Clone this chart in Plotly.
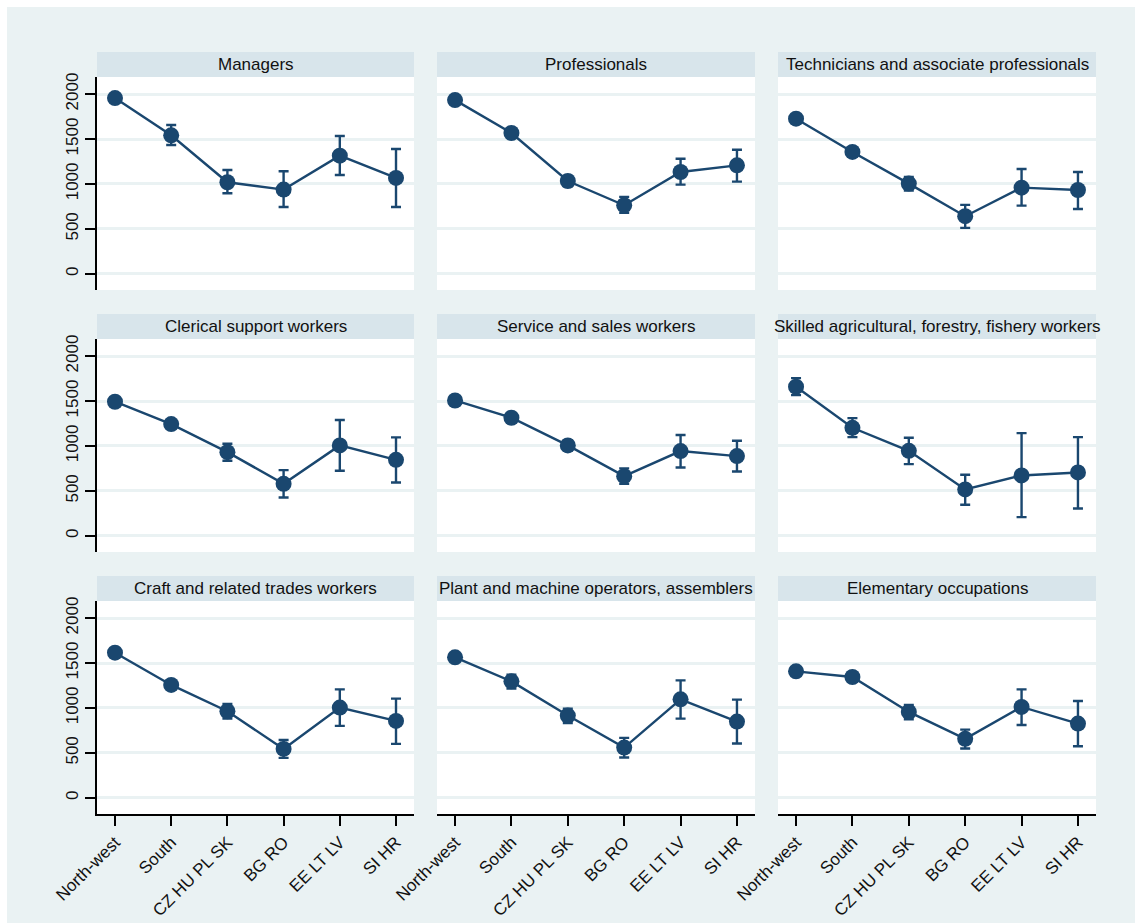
import plotly.graph_objects as go

# Regions along the x axis
regions = ["North-west", "South", "CZ HU PL SK", "BG RO", "EE LT LV", "SI HR"]

# Occupation groups (panel titles, in reading order)
occupations = [
    "Managers",
    "Professionals",
    "Technicians and associate professionals",
    "Clerical support workers",
    "Service and sales workers",
    "Skilled agricultural, forestry, fishery workers",
    "Craft and related trades workers",
    "Plant and machine operators, assemblers",
    "Elementary occupations",
]

# Point estimates per occupation (same order as regions)
managers_mean = [1955, 1541, 1019, 937, 1315, 1067]
professionals_mean = [1933, 1567, 1033, 763, 1133, 1207]
technicians_mean = [1726, 1356, 1004, 641, 959, 933]
clerical_mean = [1492, 1243, 931, 579, 1006, 846]
service_mean = [1506, 1314, 1006, 664, 943, 887]
agri_mean = [1659, 1202, 946, 516, 672, 705]
craft_mean = [1615, 1256, 963, 544, 1004, 856]
plant_mean = [1563, 1296, 915, 559, 1096, 848]
elementary_mean = [1407, 1344, 956, 656, 1011, 826]

# Upper confidence limits
managers_hi = [1975, 1656, 1156, 1141, 1533, 1389]
professionals_hi = [1950, 1590, 1090, 856, 1281, 1381]
technicians_hi = [1745, 1393, 1078, 767, 1167, 1133]
clerical_hi = [1510, 1280, 1024, 731, 1288, 1095]
service_hi = [1525, 1340, 1065, 750, 1121, 1058]
agri_hi = [1755, 1310, 1091, 679, 1143, 1098]
craft_hi = [1635, 1290, 1044, 644, 1207, 1104]
plant_hi = [1582, 1370, 993, 667, 1307, 1093]
elementary_hi = [1425, 1380, 1033, 759, 1207, 1078]

# Lower confidence limits
managers_lo = [1935, 1433, 896, 744, 1100, 744]
professionals_lo = [1916, 1544, 975, 678, 993, 1026]
technicians_lo = [1707, 1319, 926, 511, 759, 722]
clerical_lo = [1474, 1206, 835, 427, 724, 594]
service_lo = [1487, 1288, 946, 579, 761, 716]
agri_lo = [1566, 1098, 798, 345, 208, 304]
craft_lo = [1595, 1222, 881, 444, 800, 600]
plant_lo = [1544, 1215, 833, 448, 881, 604]
elementary_lo = [1389, 1308, 874, 548, 811, 574]

y_ticks = [0, 500, 1000, 1500, 2000]

means = [managers_mean, professionals_mean, technicians_mean, clerical_mean,
         service_mean, agri_mean, craft_mean, plant_mean, elementary_mean]
highs = [managers_hi, professionals_hi, technicians_hi, clerical_hi,
         service_hi, agri_hi, craft_hi, plant_hi, elementary_hi]
lows = [managers_lo, professionals_lo, technicians_lo, clerical_lo,
        service_lo, agri_lo, craft_lo, plant_lo, elementary_lo]

W, H = 1135, 923
NAVY = "#1A476F"
BG = "#EAF2F3"
STRIP = "#D8E5EB"
FONT = "Liberation Sans, Arial, sans-serif"
FS = 17

# Panel geometry in pixels
col_px = [(97, 414), (437, 755), (778, 1096)]
row_px = [(77, 290), (339, 552), (601, 814)]
strip_h = 25

fig = go.Figure()
layout = dict(
    width=W, height=H,
    margin=dict(l=0, r=0, t=0, b=0, autoexpand=False),
    paper_bgcolor=BG,
    plot_bgcolor="white",
    showlegend=False,
    font=dict(family=FONT, size=FS, color="#111111"),
)
shapes = [
    dict(type="rect", xref="paper", yref="paper", x0=0, x1=1, y0=1 - 7 / H, y1=1,
         fillcolor="white", line=dict(width=0)),
    dict(type="rect", xref="paper", yref="paper", x0=0, x1=7 / W, y0=0, y1=1,
         fillcolor="white", line=dict(width=0)),
]
annotations = []

for i, occ in enumerate(occupations):
    r, c = divmod(i, 3)
    n = i + 1
    xa = "x" if n == 1 else f"x{n}"
    ya = "y" if n == 1 else f"y{n}"
    x0, x1 = col_px[c]
    y0, y1 = row_px[r]
    mean = means[i]
    err_up = [h - m for h, m in zip(highs[i], mean)]
    err_dn = [m - l for m, l in zip(mean, lows[i])]

    fig.add_trace(go.Scatter(
        x=regions, y=mean, xaxis=xa, yaxis=ya,
        mode="lines+markers",
        line=dict(color=NAVY, width=2.4),
        marker=dict(color=NAVY, size=16),
        error_y=dict(type="data", array=err_up, arrayminus=err_dn,
                     color=NAVY, thickness=2.4, width=5),
        cliponaxis=False,
    ))

    left = c == 0
    bottom = r == 2
    layout[f"xaxis{n if n > 1 else ''}"] = dict(
        domain=[x0 / W, x1 / W],
        anchor=ya,
        type="category",
        range=[-0.32, 5.32],
        automargin=False,
        showgrid=False,
        zeroline=False,
        showline=bottom,
        linecolor="black",
        linewidth=1.5,
        ticks="outside" if bottom else "",
        ticklen=10,
        tickwidth=1.5,
        tickcolor="black",
        showticklabels=bottom,
        tickangle=-45,
        tickfont=dict(family=FONT, size=FS, color="#111111"),
    )
    layout[f"yaxis{n if n > 1 else ''}"] = dict(
        domain=[1 - y1 / H, 1 - y0 / H],
        anchor=xa,
        range=[-180, 2190],
        tickvals=y_ticks,
        automargin=False,
        showgrid=True,
        gridcolor=BG,
        gridwidth=2.5,
        zeroline=False,
        showline=left,
        linecolor="black",
        linewidth=1.5,
        ticks="outside" if left else "",
        ticklen=10,
        tickwidth=1.5,
        tickcolor="black",
        showticklabels=left,
        tickangle=-90,
        tickfont=dict(family=FONT, size=FS, color="#111111"),
    )

    # Title strip above each panel
    shapes.append(dict(
        type="rect", xref="paper", yref="paper",
        x0=x0 / W, x1=x1 / W,
        y0=1 - y0 / H, y1=1 - (y0 - strip_h) / H,
        fillcolor=STRIP, line=dict(width=0), layer="above",
    ))
    annotations.append(dict(
        text=occ, xref="paper", yref="paper",
        x=(x0 + x1) / 2 / W, y=1 - (y0 - strip_h / 2) / H,
        xanchor="center", yanchor="middle", showarrow=False,
        font=dict(family=FONT, size=FS, color="#111111"),
    ))

layout["shapes"] = shapes
layout["annotations"] = annotations
fig.update_layout(**layout)

fig.write_html("out.html")
